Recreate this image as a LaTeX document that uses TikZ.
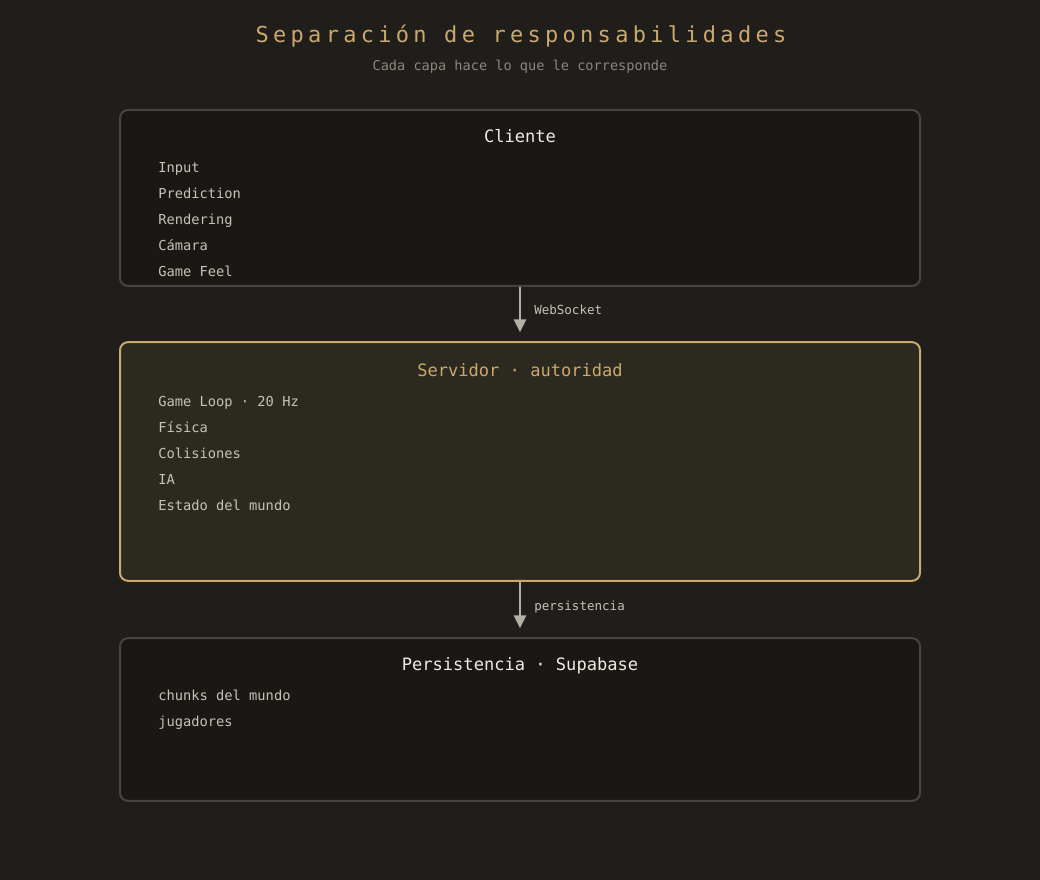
\documentclass[tikz,border=0pt]{standalone}
\usepackage{fontspec}
\setmainfont{DejaVu Sans Mono}
\usetikzlibrary{arrows.meta,positioning}
\definecolor{bgc}{HTML}{1F1E1A}
\definecolor{boxc}{HTML}{191815}
\definecolor{edgec}{HTML}{47453F}
\definecolor{srvc}{HTML}{2C2920}
\definecolor{gold}{HTML}{CBA86C}
\definecolor{subc}{HTML}{8A877F}
\definecolor{itemc}{HTML}{C6C2B6}
\definecolor{headc}{HTML}{EEEBE3}
\definecolor{arrc}{HTML}{B3B0A6}

\begin{document}
\begin{tikzpicture}[x=0.75pt, y=-0.75pt,
	layer/.style={draw=edgec, fill=boxc, line width=1.5pt, rounded corners=6pt, minimum width=600pt, inner sep=0pt},
	head/.style={inner sep=0pt, text height=9.4pt, text depth=2.6pt, font=\fontsize{12.8pt}{15pt}\selectfont, text=headc},
	item/.style={anchor=west, inner sep=0pt, text height=7.6pt, text depth=2.2pt, font=\fontsize{10.3pt}{12pt}\selectfont, text=itemc},
	flow/.style={draw=arrc, line width=1.5pt, -{Triangle[width=9pt,length=9.5pt]}},
	flowlabel/.style={anchor=west, inner sep=0pt, text height=7pt, text depth=2pt, font=\fontsize{9.4pt}{11pt}\selectfont, text=itemc}]
		%%%%% START %%%%%
		
		\fill[bgc] (0, 0) rectangle (1040, 880);
		
		\node[text=gold, inner sep=0pt, text height=12pt, text depth=3.4pt, font=\fontsize{16.5pt}{20pt}\selectfont\addfontfeature{LetterSpace=19.5}] (titulo) at (521, 37) {Separación de responsabilidades};
		\node[text=subc, inner sep=0pt, text height=7.6pt, text depth=2.2pt, font=\fontsize{10.2pt}{12pt}\selectfont] (subtitulo) at (520, 67) {Cada capa hace lo que le corresponde};
		
		% capas
		\node[layer, minimum height=132pt] (cliente) at (520, 198) {};
		\node[layer, draw=gold, fill=srvc, minimum height=179pt] (servidor) at (520, 461.5) {};
		\node[layer, minimum height=122pt] (persist) at (520, 719.5) {};
		
		\node[head] (clienteT) at (520, 138) {Cliente};
		\node[head, text=gold] (servidorT) at (520, 372) {Servidor · autoridad};
		\node[head] (persistT) at (520, 666) {Persistencia · Supabase};
		
		\foreach \txt [count=\i] in {Input, Prediction, Rendering, Cámara, Game Feel}
			\node[item] (cli\i) at (158, 143 + 26*\i) {\txt};
		\foreach \txt [count=\i] in {Game Loop · 20 Hz, Física, Colisiones, IA, Estado del mundo}
			\node[item] (srv\i) at (158, 377 + 26*\i) {\txt};
		\foreach \txt [count=\i] in {chunks del mundo, jugadores}
			\node[item] (per\i) at (158, 671 + 26*\i) {\txt};
		
		% flechas
		\draw[flow] (cliente.south) -- ([yshift=6.75pt]servidor.north);
		\node[flowlabel] (wsT) at (534, 311) {WebSocket};
		
		\draw[flow] (servidor.south) -- ([yshift=6.75pt]persist.north);
		\node[flowlabel] (perT) at (534, 607) {persistencia};
		
		%%%%% END %%%%%
	\end{tikzpicture}
\end{document}
